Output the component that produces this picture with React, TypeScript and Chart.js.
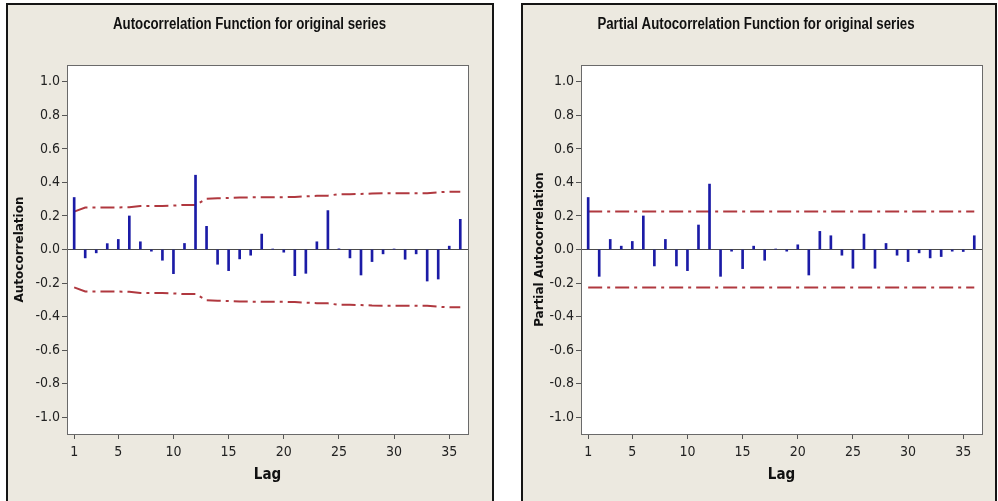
import React, { useEffect, useRef } from "react";
import { Chart, registerables } from "chart.js";

Chart.register(...registerables);

// ---- data ----
const LAGS = [1, 2, 3, 4, 5, 6, 7, 8, 9, 10, 11, 12, 13, 14, 15, 16, 17, 18, 19, 20, 21, 22, 23, 24, 25, 26, 27, 28, 29, 30, 31, 32, 33, 34, 35, 36];

const ACF_VALUES = [
  0.31, -0.05, -0.02, 0.035, 0.06, 0.2, 0.046, -0.01, -0.064, -0.144, 0.036, 0.443,
  0.138, -0.088, -0.126, -0.056, -0.034, 0.092, 0.003, -0.016, -0.156, -0.142, 0.046, 0.232,
  0.004, -0.05, -0.152, -0.072, -0.026, 0.003, -0.058, -0.026, -0.188, -0.176, 0.02, 0.18,
];

const ACF_LIMIT = [
  0.226, 0.25, 0.25, 0.251, 0.251, 0.252, 0.259, 0.26, 0.26, 0.262, 0.266, 0.266,
  0.303, 0.306, 0.307, 0.31, 0.311, 0.312, 0.312, 0.312, 0.313, 0.317, 0.32, 0.321,
  0.33, 0.33, 0.331, 0.334, 0.335, 0.335, 0.335, 0.336, 0.336, 0.341, 0.345, 0.345,
];

const PACF_VALUES = [
  0.31, -0.16, 0.06, 0.02, 0.048, 0.2, -0.098, 0.06, -0.098, -0.126, 0.146, 0.39,
  -0.16, -0.01, -0.114, 0.02, -0.064, 0.003, -0.01, 0.028, -0.152, 0.108, 0.082, -0.034,
  -0.112, 0.092, -0.112, 0.036, -0.034, -0.072, -0.02, -0.05, -0.042, -0.01, -0.012, 0.082,
];

const PACF_LIMIT = [
  0.226, 0.226, 0.226, 0.226, 0.226, 0.226, 0.226, 0.226, 0.226, 0.226, 0.226, 0.226,
  0.226, 0.226, 0.226, 0.226, 0.226, 0.226, 0.226, 0.226, 0.226, 0.226, 0.226, 0.226,
  0.226, 0.226, 0.226, 0.226, 0.226, 0.226, 0.226, 0.226, 0.226, 0.226, 0.226, 0.226,
];

const X_TICKS = [1, 5, 10, 15, 20, 25, 30, 35];
const Y_TICKS = [-1.0, -0.8, -0.6, -0.4, -0.2, 0.0, 0.2, 0.4, 0.6, 0.8, 1.0];

const ACF_TITLE = "Autocorrelation Function for original series";
const PACF_TITLE = "Partial Autocorrelation Function for original series";

// ---- styles ----
const NARROW = "'Liberation Sans Narrow', 'Arial Narrow', 'DejaVu Sans Condensed', sans-serif";
const TITLE_FONT = "bold 16px 'Liberation Sans', Arial, sans-serif";
const WIDE = "'DejaVu Sans', Verdana, sans-serif";
const BAR_COLOR = "#1b1ba6";
const LIMIT_COLOR = "#b0383f";
const PANEL_BG = "#ece9e0";
const CANVAS_H = 501;
const PLOT_TOP = 65;
const PLOT_BOTTOM = 434;

const plotFrame = {
  id: "plotFrame",
  beforeDraw(chart: any) {
    const { ctx, chartArea: a } = chart;
    ctx.save();
    ctx.fillStyle = "#ffffff";
    ctx.fillRect(a.left, a.top, a.right - a.left, a.bottom - a.top);
    ctx.restore();
  },
  afterDraw(chart: any) {
    const { ctx, chartArea: a } = chart;
    ctx.save();
    ctx.strokeStyle = "#6a6a6a";
    ctx.lineWidth = 1;
    ctx.strokeRect(Math.round(a.left) + 0.5, Math.round(a.top) + 0.5, Math.round(a.right - a.left), Math.round(a.bottom - a.top));
    ctx.restore();
  },
};

// Title drawn with a horizontally condensed bold face (the reference uses a narrow font)
const condensedTitle = {
  id: "condensedTitle",
  afterDraw(chart: any, _args: any, opts: any) {
    if (!opts || !opts.text) return;
    const { ctx } = chart;
    ctx.save();
    ctx.font = TITLE_FONT;
    const sx = opts.refWidth / ctx.measureText(opts.refText).width;
    ctx.translate(opts.cx, opts.cy);
    ctx.scale(sx, 1);
    ctx.fillStyle = "#111111";
    ctx.textAlign = "center";
    ctx.textBaseline = "middle";
    ctx.fillText(opts.text, 0, 0);
    ctx.restore();
  },
};

type PanelProps = {
  left: number;
  width: number;
  title: string;
  titleCenter: number;
  yTitle: string;
  values: number[];
  limits: number[];
  yAxisWidth: number;
  rightWidth: number;
  yTitleCenter: number;
};

function CorrPanel(p: PanelProps) {
  const ref = useRef<HTMLCanvasElement | null>(null);
  useEffect(() => {
    if (!ref.current) return;
    const bars = LAGS.map((l, i) => ({ x: l, y: p.values[i] }));
    const upper = LAGS.map((l, i) => ({ x: l, y: p.limits[i] }));
    const lower = LAGS.map((l, i) => ({ x: l, y: -p.limits[i] }));
    const limitStyle = {
      type: "line" as const,
      borderColor: LIMIT_COLOR,
      borderWidth: 2,
      borderDash: [14, 5, 3, 5],
      pointRadius: 0,
      fill: false,
      tension: 0,
      order: 2,
    };
    const chart = new Chart(ref.current, {
      type: "bar",
      data: {
        datasets: [
          {
            type: "bar",
            data: bars as any,
            backgroundColor: BAR_COLOR,
            borderWidth: 0,
            barThickness: 2,
            order: 0,
          } as any,
          { ...limitStyle, data: upper as any } as any,
          { ...limitStyle, data: lower as any } as any,
        ],
      },
      options: {
        animation: false,
        responsive: false,
        devicePixelRatio: 1,
        layout: { padding: { top: PLOT_TOP, left: 0, right: 0, bottom: 0 } },
        plugins: {
          legend: { display: false },
          tooltip: { enabled: false },
          title: { display: false },
          condensedTitle: {
            text: p.title,
            refText: ACF_TITLE,
            refWidth: 273,
            cx: p.titleCenter,
            cy: 25,
          },
        },
        scales: {
          x: {
            type: "linear",
            min: 0.35,
            max: 36.7,
            offset: false,
            afterBuildTicks: (s: any) => {
              s.ticks = X_TICKS.map((v) => ({ value: v }));
            },
            afterFit: (s: any) => {
              s.height = CANVAS_H - PLOT_BOTTOM;
            },
            grid: {
              display: true,
              drawOnChartArea: false,
              drawTicks: true,
              tickLength: 5,
              tickColor: "#555555",
              offset: false,
            },
            border: { display: false },
            ticks: {
              autoSkip: false,
              maxRotation: 0,
              padding: 5,
              color: "#222222",
              font: { family: NARROW, size: 14 },
              callback: (v: any) => String(v),
            },
            title: {
              display: true,
              text: "Lag",
              color: "#111111",
              font: { family: NARROW, size: 15, weight: "bold" },
              padding: { top: 0, bottom: 17 },
            },
          },
          y: {
            type: "linear",
            position: "left",
            min: -1.1,
            max: 1.1,
            afterBuildTicks: (s: any) => {
              s.ticks = Y_TICKS.map((v) => ({ value: v }));
            },
            afterFit: (s: any) => {
              s.width = p.yAxisWidth;
            },
            grid: {
              color: (c: any) => (c.tick && Math.abs(c.tick.value) < 1e-9 ? "#4a4a4a" : "rgba(0,0,0,0)"),
              tickColor: "#555555",
              tickLength: 5,
              lineWidth: 1,
            },
            border: { display: false },
            ticks: {
              padding: 2,
              color: "#222222",
              font: { family: NARROW, size: 14 },
              callback: (v: any) => Number(v).toFixed(1),
            },
            title: {
              display: true,
              text: p.yTitle,
              color: "#111111",
              font: { family: WIDE, size: 12, weight: "bold" },
              padding: { top: p.yTitleCenter - 7.2, bottom: 0 },
            },
          },
          y2: {
            type: "linear",
            position: "right",
            display: true,
            afterFit: (s: any) => {
              s.width = p.rightWidth;
            },
            grid: { display: false },
            border: { display: false },
            ticks: { display: false },
          },
        },
      } as any,
      plugins: [plotFrame, condensedTitle],
    });
    return () => chart.destroy();
  }, []);
  return (
    <canvas
      ref={ref}
      width={p.width}
      height={CANVAS_H}
      style={{ position: "absolute", left: p.left, top: 0, width: p.width, height: CANVAS_H }}
    />
  );
}

export default function App() {
  const panel = (left: number, width: number): React.CSSProperties => ({
    position: "absolute",
    left,
    top: 3,
    width,
    height: 540,
    boxSizing: "border-box",
    background: PANEL_BG,
    border: "2px solid #151515",
  });
  return (
    <div
      style={{
        position: "fixed",
        left: 0,
        top: 0,
        width: 998,
        height: 501,
        background: "#ffffff",
        overflow: "hidden",
      }}
    >
      <div style={panel(6, 488)} />
      <div style={panel(521, 476)} />
      <CorrPanel
        left={0}
        width={498}
        title={ACF_TITLE}
        titleCenter={249.5}
        yTitle="Autocorrelation"
        values={ACF_VALUES}
        limits={ACF_LIMIT}
        yAxisWidth={67}
        rightWidth={30}
        yTitleCenter={20}
      />
      <CorrPanel
        left={508}
        width={492}
        title={PACF_TITLE}
        titleCenter={248}
        yTitle="Partial Autocorrelation"
        values={PACF_VALUES}
        limits={PACF_LIMIT}
        yAxisWidth={73}
        rightWidth={18}
        yTitleCenter={32}
      />
    </div>
  );
}
